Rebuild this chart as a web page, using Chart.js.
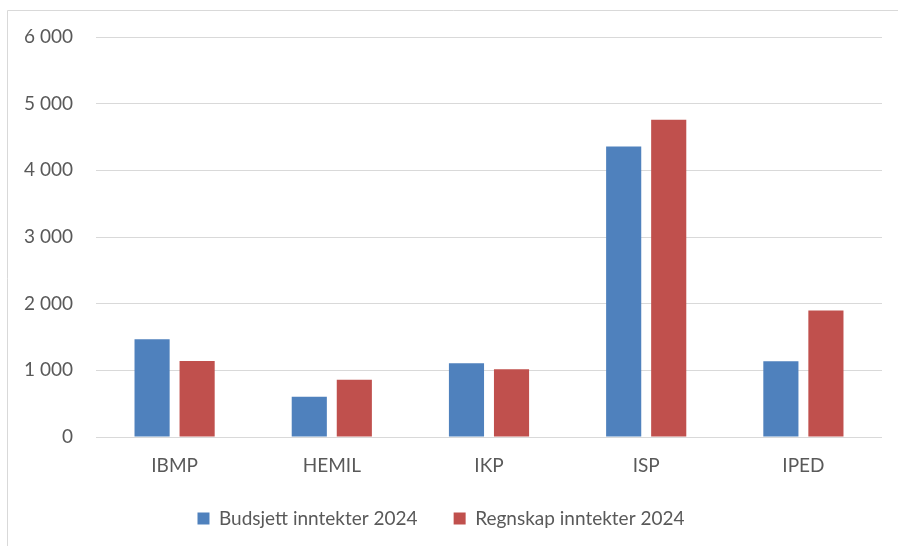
<!DOCTYPE html>
<html>
<head>
<meta charset="utf-8">
<style>
  html, body { margin: 0; padding: 0; background: #fff; }
  #wrap { position: absolute; left: 0; top: 0; width: 898px; height: 546px; }
</style>
</head>
<body>
<div id="wrap">
  <canvas id="myChart" width="898" height="546"></canvas>
</div>
<script src="https://cdn.jsdelivr.net/npm/chart.js"></script>
<script>

const institutter = ['IBMP', 'HEMIL', 'IKP', 'ISP', 'IPED'];
const budsjett = [1468, 603, 1106, 4356, 1136];
const regnskap = [1141, 859, 1016, 4758, 1899];
const yTicks = [0, 1000, 2000, 3000, 4000, 5000, 6000];

const tekst = '#595959';
const font = 'Lato, "Open Sans", sans-serif';

function fmt(v) {
  return String(v).replace(/\B(?=(\d{3})+(?!\d))/g, ' ');
}

// light frame around the chart, like the exported office picture
const ramme = {
  id: 'ramme',
  beforeDraw(chart) {
    const ctx = chart.ctx;
    ctx.save();
    ctx.strokeStyle = '#d9d9d9';
    ctx.lineWidth = 1;
    ctx.beginPath();
    ctx.moveTo(7.5, 560);
    ctx.lineTo(7.5, 10.5);
    ctx.lineTo(900, 10.5);
    ctx.stroke();
    ctx.restore();
  }
};

const data = {
  labels: institutter,
  datasets: [
    {
      label: 'Budsjett inntekter 2024',
      data: budsjett,
      backgroundColor: '#4F81BD'
    },
    {
      label: 'Regnskap inntekter 2024',
      data: regnskap,
      backgroundColor: '#C0504D'
    }
  ]
};

const config = {
  type: 'bar',
  data: data,
  plugins: [ramme],
  options: {
    responsive: false,
    animation: false,
    layout: { padding: { top: 37, right: 16, left: 0, bottom: 8 } },
    datasets: {
      bar: { categoryPercentage: 0.573, barPercentage: 0.78 }
    },
    scales: {
      x: {
        grid: { display: false, drawTicks: false },
        border: { display: false },
        ticks: { color: tekst, font: { family: font, size: 19 }, padding: 17 },
        afterFit(axis) { axis.height = 36; }
      },
      y: {
        min: 0,
        max: 6000,
        afterBuildTicks(axis) { axis.ticks = yTicks.map(v => ({ value: v })); },
        grid: { color: '#d9d9d9', lineWidth: 1, drawTicks: false },
        border: { display: false },
        ticks: {
          color: tekst,
          font: { family: font, size: 19 },
          padding: 23,
          callback: v => fmt(v)
        },
        afterFit(axis) { axis.width = 96; }
      }
    },
    plugins: {
      legend: {
        position: 'bottom',
        labels: {
          color: tekst,
          font: { family: font, size: 19 },
          boxWidth: 12,
          boxHeight: 12,
          padding: 36
        }
      },
      tooltip: { enabled: false }
    }
  }
};

var chart = new Chart('myChart', config);

</script>
</body>
</html>
